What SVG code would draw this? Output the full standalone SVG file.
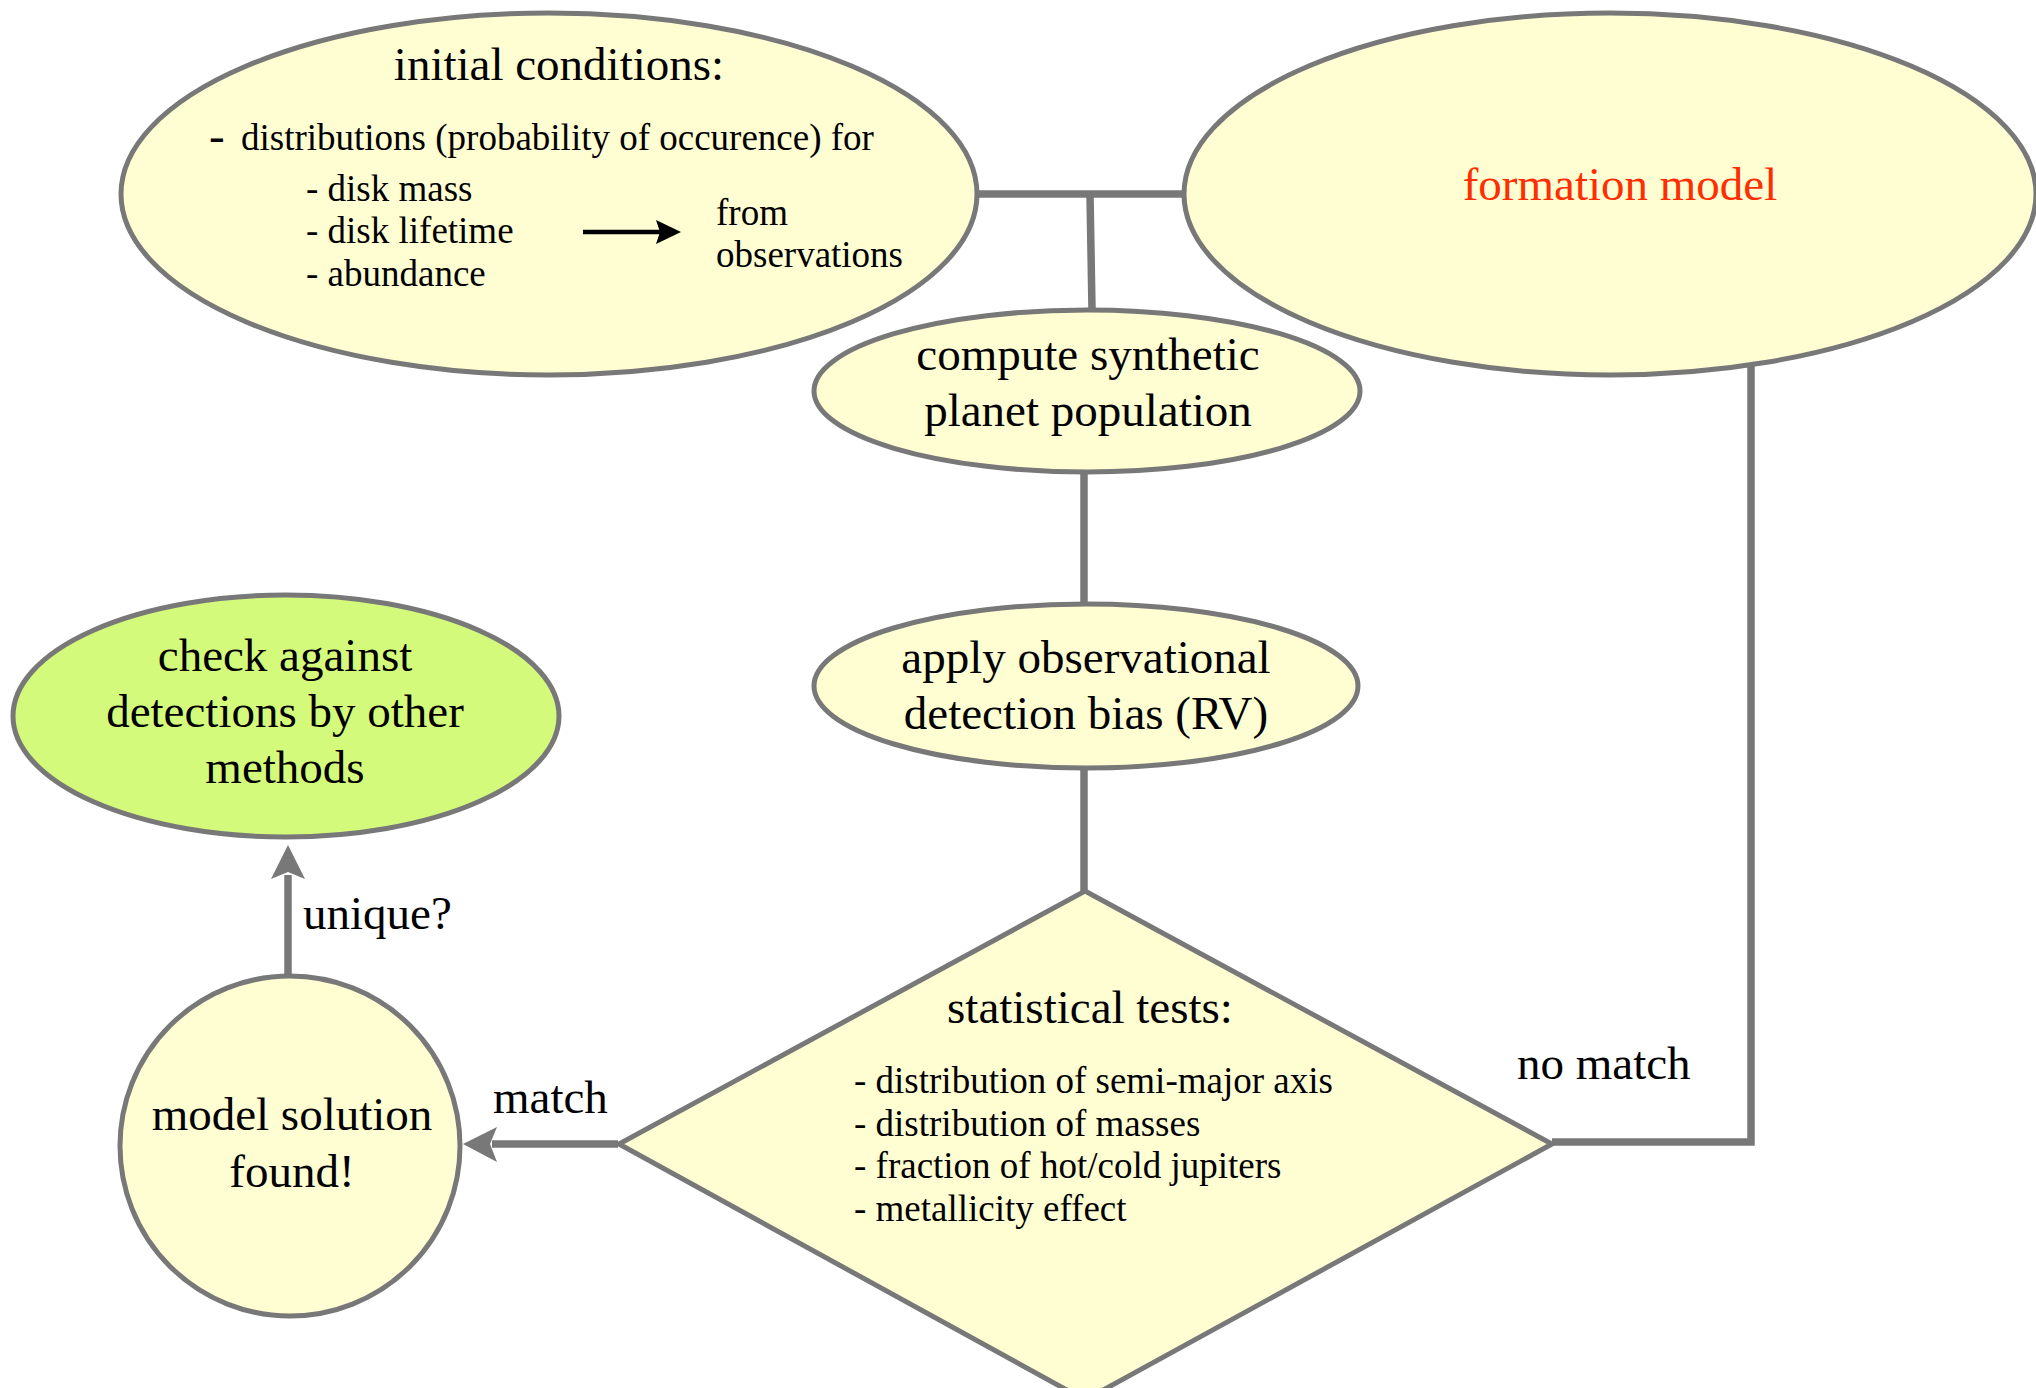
<svg xmlns="http://www.w3.org/2000/svg" width="2036" height="1388" viewBox="0 0 2036 1388">
<style>
.node{fill:#FFFDD2;stroke:#787878;stroke-width:5}
.green{fill:#D4FA7C;stroke:#787878;stroke-width:5}
.t{font-family:"Liberation Serif","Times New Roman",serif;font-size:47px;fill:#000}
.s{font-family:"Liberation Serif","Times New Roman",serif;font-size:37px;fill:#000}
.c{text-anchor:middle}
.conn{fill:none;stroke:#787878;stroke-width:7.5}
.head{fill:#787878}
</style>
<g id="connectors">
<path class="conn" d="M976,194 H1186"/>
<path class="conn" d="M1090,194 L1092,309"/>
<path class="conn" d="M1084,472 V605"/>
<path class="conn" d="M1084,768 V891"/>
<path class="conn" d="M1552,1142 H1751 V366"/>
<path class="conn" d="M618,1144 H492"/>
<path class="head" d="M463,1144 L497,1127 L490,1144 L497,1162 Z"/>
<path class="conn" d="M288,976 V875"/>
<path class="head" d="M288,845 L271,879 L288,872 L305,879 Z"/>
<text class="t" x="493" y="1113">match</text>
<text class="t" x="1517" y="1079">no match</text>
<text class="t" x="303" y="929">unique?</text>
</g>
<g id="initial-conditions">
<ellipse class="node" cx="549" cy="194" rx="428" ry="181"/>
<text class="t c" x="559" y="80">initial conditions:</text>
<text class="t" x="209" y="151">-</text>
<text class="s" x="241" y="150">distributions (probability of occurence) for</text>
<text class="s" x="306" y="201">- disk mass</text>
<text class="s" x="306" y="243">- disk lifetime</text>
<text class="s" x="306" y="286">- abundance</text>
<line x1="583" y1="232" x2="662" y2="232" stroke="#000" stroke-width="4.7"/>
<path d="M681,232 L656,220 L660,232 L656,244 Z" fill="#000"/>
<text class="s" x="716" y="225">from</text>
<text class="s" x="716" y="267">observations</text>
</g>
<g id="formation-model">
<ellipse class="node" cx="1610" cy="194" rx="426" ry="181"/>
<text class="t c" x="1620" y="200" style="fill:#FF2D00">formation model</text>
</g>
<g id="compute-population">
<ellipse class="node" cx="1087" cy="391" rx="273" ry="81"/>
<text class="t c" x="1088" y="370">compute synthetic</text>
<text class="t c" x="1088" y="426">planet population</text>
</g>
<g id="detection-bias">
<ellipse class="node" cx="1086" cy="686" rx="272" ry="82"/>
<text class="t c" x="1086" y="673">apply observational</text>
<text class="t c" x="1086" y="729">detection bias (RV)</text>
</g>
<g id="statistical-tests">
<polygon class="node" points="1085,891 1552,1144 1085,1400 619,1144"/>
<text class="t c" x="1090" y="1023">statistical tests:</text>
<text class="s" x="854" y="1093">- distribution of semi-major axis</text>
<text class="s" x="854" y="1136">- distribution of masses</text>
<text class="s" x="854" y="1178">- fraction of hot/cold jupiters</text>
<text class="s" x="854" y="1221">- metallicity effect</text>
</g>
<g id="model-solution">
<circle class="node" cx="290" cy="1146" r="170"/>
<text class="t c" x="292" y="1130">model solution</text>
<text class="t c" x="292" y="1187">found!</text>
</g>
<g id="check-other-methods">
<ellipse class="green" cx="286" cy="716" rx="273" ry="121"/>
<text class="t c" x="285" y="671">check against</text>
<text class="t c" x="285" y="727">detections by other</text>
<text class="t c" x="285" y="783">methods</text>
</g>
</svg>
